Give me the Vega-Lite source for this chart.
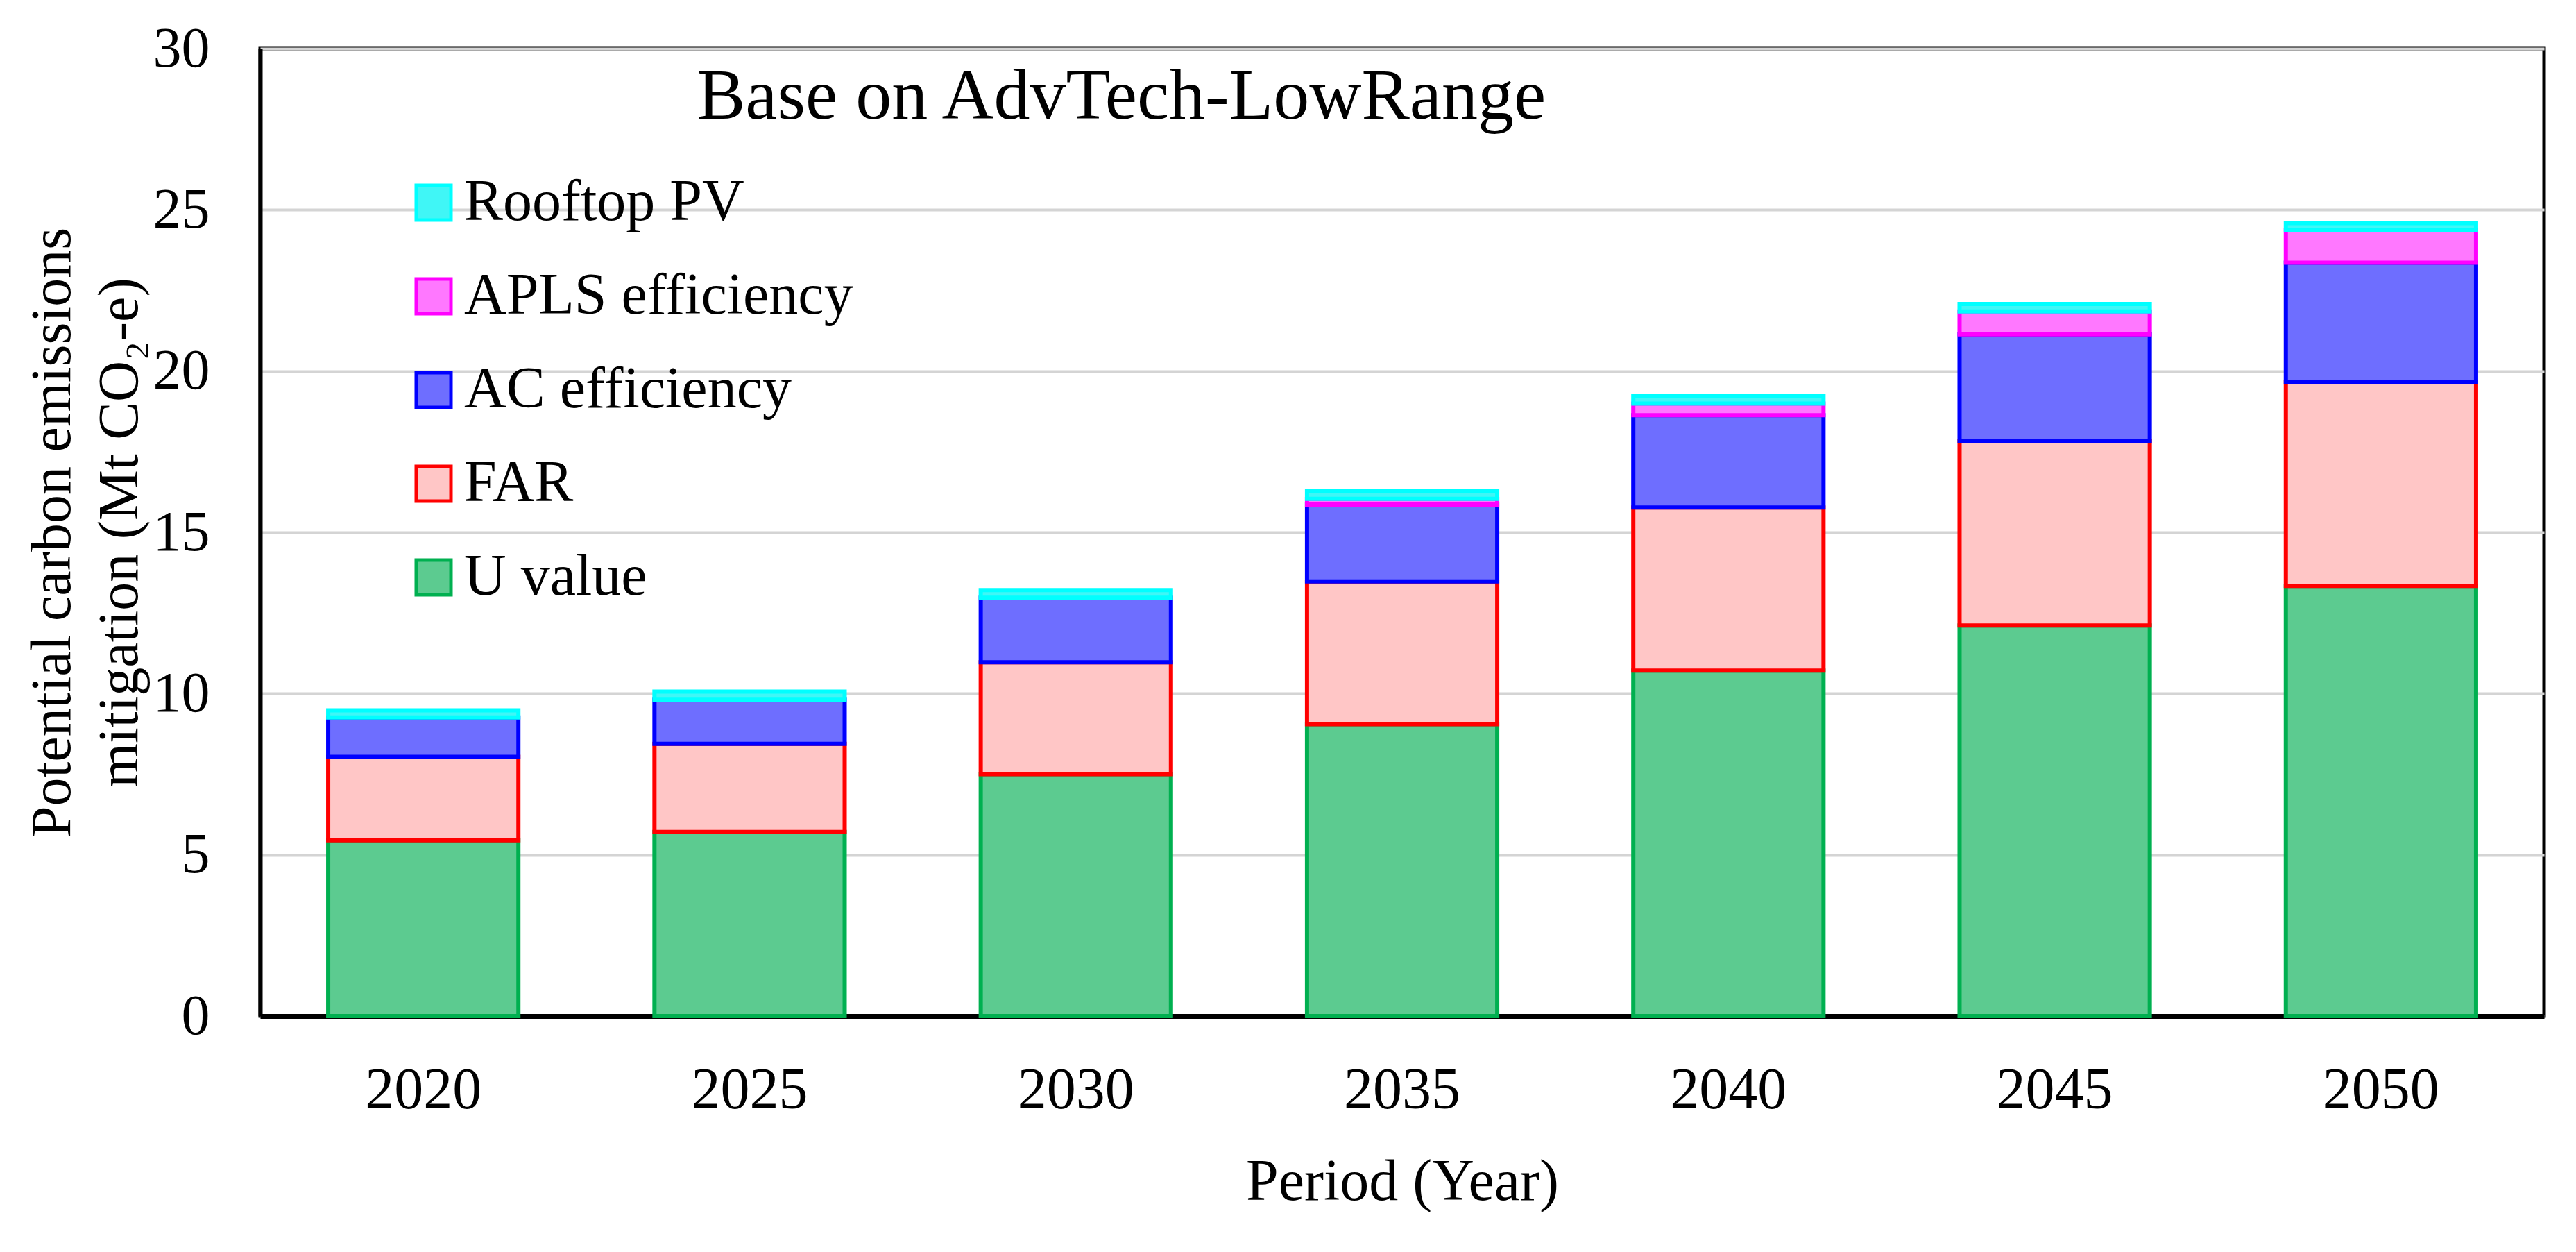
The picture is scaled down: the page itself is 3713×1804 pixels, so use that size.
{
  "$schema": "https://vega.github.io/schema/vega-lite/v6.json",
  "width": 3292,
  "height": 1394,
  "autosize": {"type": "none"},
  "padding": {"left": 375, "top": 70, "right": 46, "bottom": 340},
  "background": "white",
  "title": {
    "text": "Base on AdvTech-LowRange",
    "anchor": "start",
    "frame": "group",
    "orient": "top",
    "offset": 0,
    "dx": 630,
    "dy": 246,
    "baseline": "alphabetic",
    "fontSize": 104,
    "font": "Liberation Serif",
    "fontWeight": "normal",
    "color": "black"
  },
  "data": {
    "values": [
      {"year": "2020", "category": "U value", "value": 5.45},
      {"year": "2020", "category": "FAR", "value": 2.59},
      {"year": "2020", "category": "AC efficiency", "value": 1.22},
      {"year": "2020", "category": "Rooftop PV", "value": 0.22},
      {"year": "2025", "category": "U value", "value": 5.71},
      {"year": "2025", "category": "FAR", "value": 2.73},
      {"year": "2025", "category": "AC efficiency", "value": 1.37},
      {"year": "2025", "category": "Rooftop PV", "value": 0.25},
      {"year": "2030", "category": "U value", "value": 7.5},
      {"year": "2030", "category": "FAR", "value": 3.47},
      {"year": "2030", "category": "AC efficiency", "value": 2.0},
      {"year": "2030", "category": "Rooftop PV", "value": 0.24},
      {"year": "2035", "category": "U value", "value": 9.05},
      {"year": "2035", "category": "FAR", "value": 4.43},
      {"year": "2035", "category": "AC efficiency", "value": 2.38},
      {"year": "2035", "category": "APLS efficiency", "value": 0.18},
      {"year": "2035", "category": "Rooftop PV", "value": 0.24},
      {"year": "2040", "category": "U value", "value": 10.71},
      {"year": "2040", "category": "FAR", "value": 5.06},
      {"year": "2040", "category": "AC efficiency", "value": 2.86},
      {"year": "2040", "category": "APLS efficiency", "value": 0.36},
      {"year": "2040", "category": "Rooftop PV", "value": 0.23},
      {"year": "2045", "category": "U value", "value": 12.11},
      {"year": "2045", "category": "FAR", "value": 5.71},
      {"year": "2045", "category": "AC efficiency", "value": 3.32},
      {"year": "2045", "category": "APLS efficiency", "value": 0.71},
      {"year": "2045", "category": "Rooftop PV", "value": 0.23},
      {"year": "2050", "category": "U value", "value": 13.34},
      {"year": "2050", "category": "FAR", "value": 6.33},
      {"year": "2050", "category": "AC efficiency", "value": 3.69},
      {"year": "2050", "category": "APLS efficiency", "value": 1.02},
      {"year": "2050", "category": "Rooftop PV", "value": 0.21}
    ]
  },
  "transform": [
    {"calculate": "indexof(['U value', 'FAR', 'AC efficiency', 'APLS efficiency', 'Rooftop PV'], datum.category)", "as": "stackRank"}
  ],
  "mark": {"type": "bar", "strokeWidth": 6},
  "encoding": {
    "x": {
      "field": "year",
      "type": "ordinal",
      "scale": {"paddingInner": 0.417, "paddingOuter": 0.2085},
      "axis": {
        "title": "Period (Year)",
        "labelAngle": 0,
        "ticks": false,
        "labelPadding": 66,
        "labelFontSize": 84,
        "labelBaseline": "top",
        "titleFontSize": 84,
        "titleFontWeight": "normal",
        "titleBaseline": "top",
        "titleY": 198,
        "domainColor": "black",
        "domainWidth": 7
      }
    },
    "y": {
      "field": "value",
      "type": "quantitative",
      "stack": "zero",
      "scale": {"domain": [0, 30], "nice": false},
      "axis": {
        "values": [0, 5, 10, 15, 20, 25, 30],
        "title": ["Potential carbon emissions", "mitigation (Mt CO₂-e)"],
        "titleFontSize": 82,
        "titleFontWeight": "normal",
        "titleLineHeight": 97,
        "titleAngle": -90,
        "titleAlign": "center",
        "titleBaseline": "top",
        "titleX": -340,
        "titleY": 697,
        "ticks": false,
        "labelPadding": 73,
        "labelFontSize": 82,
        "domainColor": "black",
        "domainWidth": 6,
        "gridColor": "#d4d4d4",
        "gridWidth": 4
      }
    },
    "order": {"field": "stackRank", "type": "quantitative", "sort": "ascending"},
    "fill": {
      "field": "category",
      "type": "nominal",
      "sort": ["Rooftop PV", "APLS efficiency", "AC efficiency", "FAR", "U value"],
      "scale": {
        "domain": ["Rooftop PV", "APLS efficiency", "AC efficiency", "FAR", "U value"],
        "range": ["#40f6f6", "#ff78ff", "#6e6eff", "#ffc6c6", "#5ccb90"]
      },
      "legend": {
        "title": null,
        "orient": "none",
        "legendX": 208,
        "legendY": 180,
        "symbolType": "square",
        "symbolSize": 2500,
        "symbolStrokeWidth": 5,
        "labelFontSize": 84,
        "labelOffset": 2,
        "labelLimit": 2000,
        "rowPadding": 51,
        "padding": 0,
        "labelColor": "black"
      }
    },
    "stroke": {
      "field": "category",
      "type": "nominal",
      "sort": ["Rooftop PV", "APLS efficiency", "AC efficiency", "FAR", "U value"],
      "scale": {
        "domain": ["Rooftop PV", "APLS efficiency", "AC efficiency", "FAR", "U value"],
        "range": ["#00ffff", "#ff00ff", "#0000ff", "#ff0000", "#00b050"]
      },
      "legend": {
        "title": null,
        "orient": "none",
        "legendX": 208,
        "legendY": 180,
        "symbolType": "square",
        "symbolSize": 2500,
        "symbolStrokeWidth": 5,
        "labelFontSize": 84,
        "labelOffset": 2,
        "labelLimit": 2000,
        "rowPadding": 51,
        "padding": 0,
        "labelColor": "black"
      }
    }
  },
  "config": {
    "font": "Liberation Serif",
    "view": {"stroke": "black", "strokeWidth": 5},
    "axis": {"labelColor": "black", "titleColor": "black", "labelFont": "Liberation Serif", "titleFont": "Liberation Serif"},
    "legend": {"labelFont": "Liberation Serif"}
  }
}
